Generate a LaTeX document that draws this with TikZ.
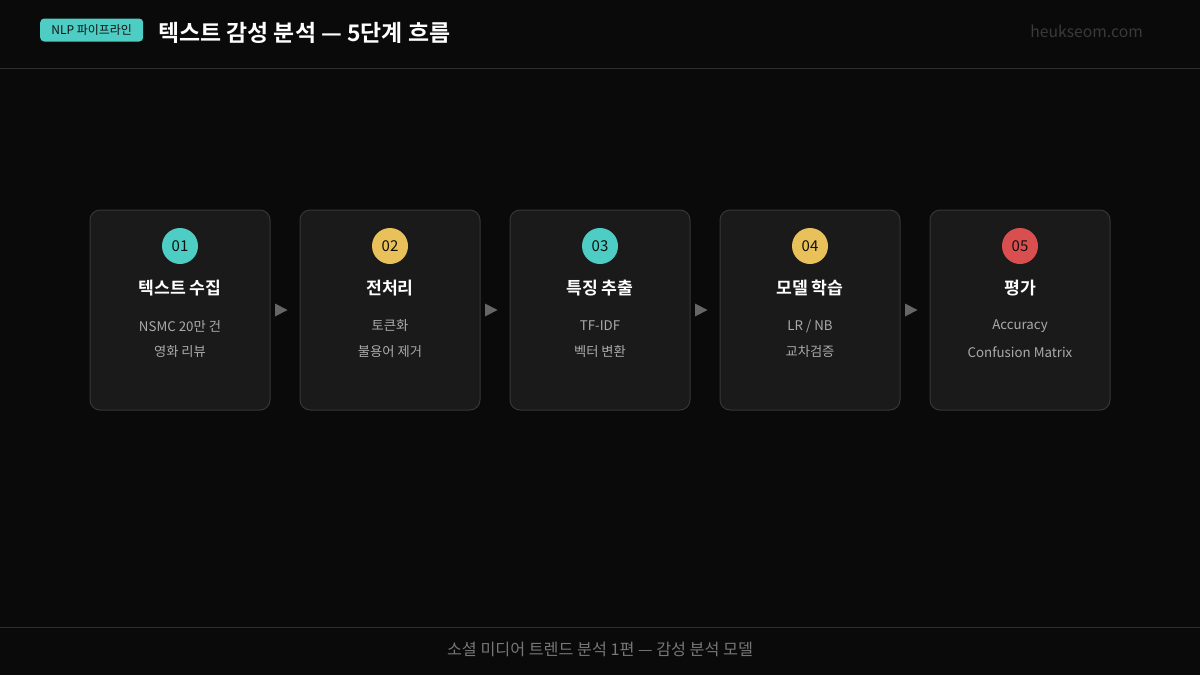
\documentclass[tikz,border=0pt]{standalone}
\usepackage{fontspec}
\setmainfont{Noto Sans CJK KR}[BoldFont={Noto Sans CJK KR Bold}]
\usetikzlibrary{calc}
\definecolor{bg}{HTML}{0A0A0A}
\definecolor{rule}{HTML}{2E2E2E}
\definecolor{cardfill}{HTML}{1A1A1A}
\definecolor{cardline}{HTML}{363636}
\definecolor{teal}{HTML}{4ECDC4}
\definecolor{gold}{HTML}{E8C15A}
\definecolor{coral}{HTML}{D94F4F}
\definecolor{ink}{HTML}{111111}
\definecolor{sub}{HTML}{AAAAAA}
\definecolor{arrowc}{HTML}{666666}
\definecolor{foot}{HTML}{777777}
\definecolor{wm}{HTML}{3A3A3A}
\tikzset{
  card/.style={draw=cardline, line width=1pt, fill=cardfill, rounded corners=10pt, minimum width=180pt, minimum height=200pt, inner sep=0pt},
  numdot/.style={circle, minimum size=36pt, inner sep=0pt, text=ink, font=\fontsize{15}{17}\selectfont},
  ctitle/.style={text=white, font=\bfseries\fontsize{17.2}{20}\selectfont},
  cline/.style={text=sub, font=\fontsize{13.3}{16}\selectfont},
  flowtip/.style={fill=arrowc}
}
\begin{document}
\begin{tikzpicture}[x=1pt,y=-1pt]
\fill[bg] (0,0) rectangle (1200,675);
\useasboundingbox (0,0) rectangle (1200,675);
% header
\draw[rule, line width=1pt] (0,68) -- (1200,68);
\node[fill=teal, rounded corners=4pt, minimum width=103pt, minimum height=23pt, inner sep=0pt, text=ink, font=\fontsize{12}{14}\selectfont, anchor=west] (badge) at (40,30) {NLP 파이프라인};
\node[anchor=west, text=white, font=\bfseries\fontsize{22.9}{27}\selectfont, inner sep=0pt] (title) at (158,32.5) {텍스트 감성 분석 — 5단계 흐름};
\node[anchor=east, text=wm, font=\fontsize{15.7}{18}\selectfont, inner sep=0pt] (wm) at (1143,31) {heukseom.com};
% footer
\draw[rule, line width=1pt] (0,627) -- (1200,627);
\node[text=foot, font=\fontsize{16.2}{19}\selectfont, inner sep=0pt] (foottext) at (600,649) {소셜 미디어 트렌드 분석 1편 — 감성 분석 모델};
% cards
\foreach \i/\x/\col/\num/\ttl/\la/\lb in {
  1/180/teal/01/텍스트 수집/NSMC 20만 건/영화 리뷰,
  2/390/gold/02/전처리/토큰화/불용어 제거,
  3/600/teal/03/특징 추출/TF-IDF/벡터 변환,
  4/810/gold/04/모델 학습/{LR / NB}/교차검증,
  5/1020/coral/05/평가/Accuracy/Confusion Matrix}{
  \node[card] (c\i) at (\x,310) {};
  \node[numdot, fill=\col] (n\i) at (\x,246) {\num};
  \node[ctitle] (t\i) at (\x,288) {\ttl};
  \node[cline] (a\i) at (\x,326) {\la};
  \node[cline] (b\i) at (\x,352) {\lb};
}
% arrows between cards
\foreach \i/\j in {1/2,2/3,3/4,4/5}{
  \coordinate (m\i) at ($(c\i.east)!0.5!(c\j.west)+(-4,0)$);
  \fill[flowtip] ($(m\i)+(-6,-6.5)$) -- ($(m\i)+(6.5,0)$) -- ($(m\i)+(-6,6.5)$) -- cycle;
}
\end{tikzpicture}
\end{document}
